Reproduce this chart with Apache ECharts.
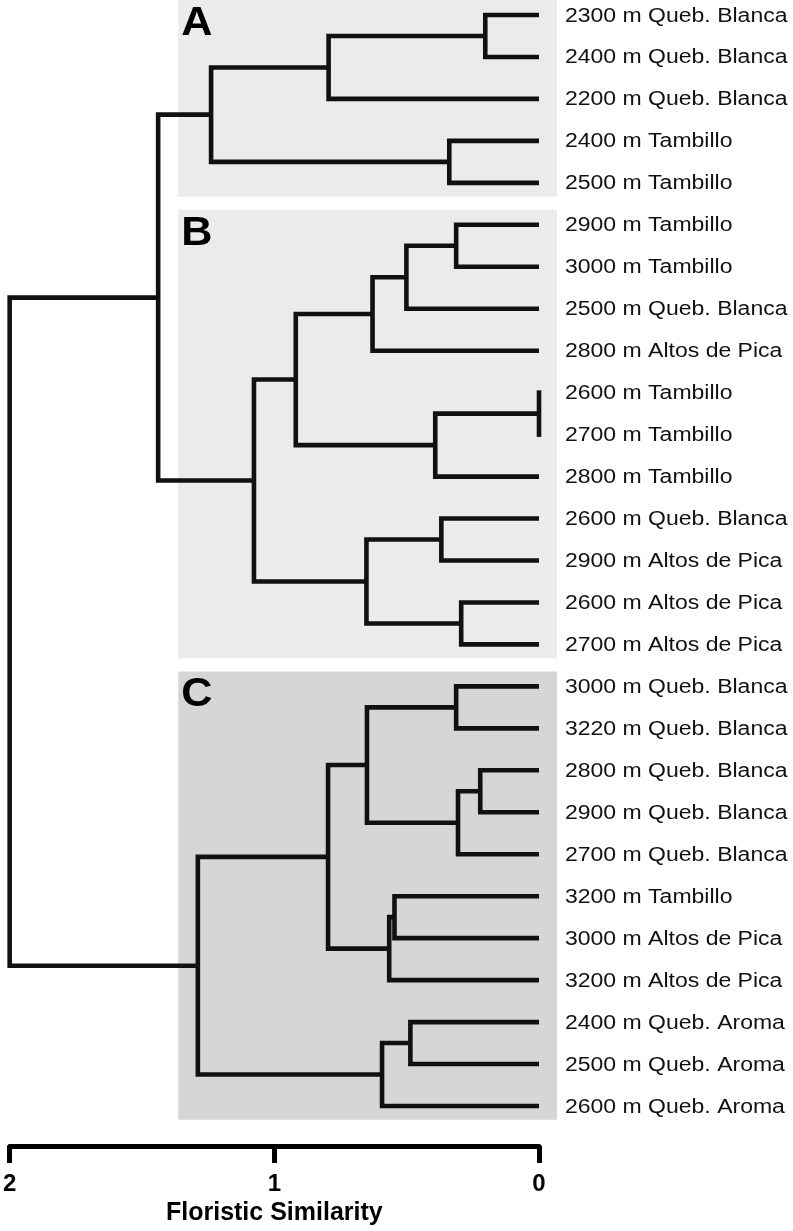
<!DOCTYPE html>
<html>
<head>
<meta charset="utf-8">
<script src="https://cdn.jsdelivr.net/npm/echarts@6/dist/echarts.min.js"></script>
<style>html,body{margin:0;padding:0;background:#fff;}#c{width:793px;height:1231px;}</style>
</head>
<body>
<div id="c"></div>
<script>
// ---- data ----
const leaves = [
  "2300 m Queb. Blanca", "2400 m Queb. Blanca", "2200 m Queb. Blanca",
  "2400 m Tambillo", "2500 m Tambillo",
  "2900 m Tambillo", "3000 m Tambillo", "2500 m Queb. Blanca", "2800 m Altos de Pica",
  "2600 m Tambillo", "2700 m Tambillo", "2800 m Tambillo",
  "2600 m Queb. Blanca", "2900 m Altos de Pica", "2600 m Altos de Pica", "2700 m Altos de Pica",
  "3000 m Queb. Blanca", "3220 m Queb. Blanca", "2800 m Queb. Blanca", "2900 m Queb. Blanca",
  "2700 m Queb. Blanca", "3200 m Tambillo", "3000 m Altos de Pica", "3200 m Altos de Pica",
  "2400 m Queb. Aroma", "2500 m Queb. Aroma", "2600 m Queb. Aroma"
];
// merges: ids < 27 are leaves, id 27+k is merge k
const mergeLeft   = [0, 27, 3, 28, 5, 31, 32, 9, 34, 33, 12, 14, 37, 36, 30, 16, 18, 43, 42, 21, 46, 45, 24, 49, 48, 41];
const mergeRight  = [1, 2, 4, 29, 6, 7, 8, 10, 11, 35, 13, 15, 38, 39, 40, 17, 19, 20, 44, 22, 23, 47, 25, 26, 50, 51];
const mergeHeight = [0.203, 0.795, 0.339, 1.239, 0.313, 0.501, 0.629, 0.0, 0.392, 0.919, 0.369, 0.294, 0.652, 1.077, 1.439,
                     0.313, 0.222, 0.306, 0.650, 0.546, 0.566, 0.797, 0.486, 0.593, 1.289, 2.0];
const groupLetters = ["A", "B", "C"];
const groupFirst = [0, 5, 16];
const groupLast = [4, 15, 26];
const xTickValues = [0, 1, 2];
const xAxisTitle = "Floristic Similarity";

// ---- layout of tree (node height, node position = mean of children) ----
const pos = leaves.map((_, i) => ({ x: 0, y: i }));
mergeHeight.forEach((h, k) => {
  const a = pos[mergeLeft[k]], b = pos[mergeRight[k]];
  pos.push({ x: h, y: (a.y + b.y) / 2 });
});

const LINE = '#111';
const panelColors = ['#ebebeb', '#ebebeb', '#d6d6d6'];
const panelLeft = 1.363, panelRight = -0.068, padTop = 0.357, padBottom = 0.33;
const labelFont = 'Liberation Sans, Arial, sans-serif';

const chart = echarts.init(document.getElementById('c'));
chart.setOption({
  animation: false,
  backgroundColor: '#fff',
  grid: { left: 8, right: 254, top: 15, bottom: 123 },
  xAxis: {
    type: 'value', inverse: true, min: 0, max: 2, interval: 1,
    position: 'bottom', offset: 40,
    axisLine: { show: true, onZero: false, lineStyle: { color: '#000', width: 5 } },
    axisTick: { show: true, inside: false, length: 17, lineStyle: { color: '#000', width: 5 } },
    axisLabel: {
      margin: 26, color: '#000', fontSize: 24, fontWeight: 'bold', fontFamily: labelFont,
      formatter: v => xTickValues.indexOf(v) >= 0 ? String(v) : ''
    },
    splitLine: { show: false },
    name: xAxisTitle, nameLocation: 'middle', nameGap: 55,
    nameTextStyle: { color: '#000', fontSize: 25, fontWeight: 'bold', fontFamily: labelFont }
  },
  yAxis: { type: 'value', inverse: true, min: 0, max: leaves.length - 1, show: false },
  series: [
    {
      type: 'custom', clip: false, z: 1,
      data: groupLetters.map((g, k) => [panelLeft, groupFirst[k] - padTop, panelRight, groupLast[k] + padBottom]),
      renderItem: (params, api) => {
        const k = params.dataIndex;
        const p1 = api.coord([api.value(0), api.value(1)]);
        const p2 = api.coord([api.value(2), api.value(3)]);
        return {
          type: 'group',
          children: [
            { type: 'rect', shape: { x: p1[0], y: p1[1], width: p2[0] - p1[0], height: p2[1] - p1[1] },
              style: { fill: panelColors[k] } },
            { type: 'text', x: p1[0] + 3, y: p1[1] + 4, scaleX: 1.08,
              style: { text: groupLetters[k], fill: '#000', fontSize: 40, fontWeight: 'bold',
                       fontFamily: labelFont, align: 'left', verticalAlign: 'top' } }
          ]
        };
      }
    },
    {
      type: 'custom', clip: false, z: 3,
      data: mergeHeight.map((h, k) => [h, pos[27 + k].y]),
      renderItem: (params, api) => {
        const k = params.dataIndex;
        const a = pos[mergeLeft[k]], b = pos[mergeRight[k]], h = mergeHeight[k];
        const raw = [api.coord([a.x, a.y]), api.coord([h, a.y]), api.coord([h, b.y]), api.coord([b.x, b.y])];
        const pts = [];
        raw.forEach(p => {
          const l = pts[pts.length - 1];
          if (!l || Math.abs(l[0] - p[0]) > 0.01 || Math.abs(l[1] - p[1]) > 0.01) pts.push(p);
        });
        return { type: 'polyline', shape: { points: pts },
                 style: { stroke: LINE, lineWidth: 4.6, fill: null, lineJoin: 'miter', lineCap: h === 0 ? 'square' : 'butt' } };
      }
    },
    {
      type: 'custom', clip: false, z: 4,
      data: leaves.map((n, i) => [0, i]),
      renderItem: (params, api) => {
        const p = api.coord([api.value(0), api.value(1)]);
        return { type: 'text', x: p[0] + 26, y: p[1] + 1, scaleX: 1.15,
                 style: { text: leaves[params.dataIndex], fill: '#111', fontSize: 20,
                          fontFamily: labelFont, align: 'left', verticalAlign: 'middle' } };
      }
    }
  ]
});
</script>
</body>
</html>
